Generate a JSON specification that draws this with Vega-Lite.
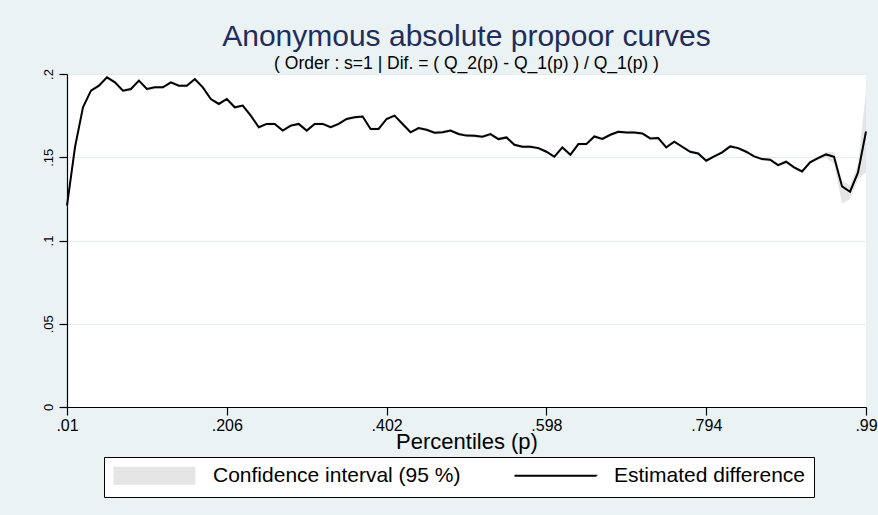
{
  "$schema": "https://vega.github.io/schema/vega-lite/v6.json",
  "width": 799,
  "height": 333,
  "autosize": {"type": "none"},
  "padding": {"left": 67, "top": 74, "right": 12, "bottom": 108},
  "background": "#eaf2f3",
  "title": {
    "text": "Anonymous absolute propoor curves",
    "subtitle": "( Order : s=1 | Dif. = ( Q_2(p) - Q_1(p) ) / Q_1(p) )",
    "font": "Liberation Sans",
    "fontSize": 30,
    "fontWeight": "normal",
    "color": "#1f2d5c",
    "subtitleFont": "Liberation Sans",
    "subtitleFontSize": 17.5,
    "subtitleColor": "black",
    "subtitlePadding": 3,
    "anchor": "middle",
    "frame": "group",
    "offset": -4
  },
  "config": {
    "view": {"fill": "white", "stroke": null},
    "axis": {
      "labelFont": "Liberation Sans",
      "titleFont": "Liberation Sans",
      "labelColor": "black",
      "titleColor": "black",
      "domainColor": "black",
      "tickColor": "black",
      "domainWidth": 1.2,
      "tickWidth": 1.2,
      "tickSize": 8
    }
  },
  "data": {
    "values": [
      {"p": 0.01, "est": 0.121, "lo": 0.120, "hi": 0.122},
      {"p": 0.0198, "est": 0.156, "lo": 0.155, "hi": 0.157},
      {"p": 0.0296, "est": 0.180, "lo": 0.179, "hi": 0.181},
      {"p": 0.0394, "est": 0.190, "lo": 0.189, "hi": 0.191},
      {"p": 0.0492, "est": 0.193, "lo": 0.192, "hi": 0.194},
      {"p": 0.059, "est": 0.198, "lo": 0.197, "hi": 0.199},
      {"p": 0.0688, "est": 0.195, "lo": 0.194, "hi": 0.196},
      {"p": 0.0786, "est": 0.190, "lo": 0.189, "hi": 0.191},
      {"p": 0.0884, "est": 0.191, "lo": 0.190, "hi": 0.192},
      {"p": 0.0982, "est": 0.196, "lo": 0.195, "hi": 0.197},
      {"p": 0.108, "est": 0.191, "lo": 0.190, "hi": 0.192},
      {"p": 0.1178, "est": 0.192, "lo": 0.191, "hi": 0.193},
      {"p": 0.1276, "est": 0.192, "lo": 0.191, "hi": 0.193},
      {"p": 0.1374, "est": 0.195, "lo": 0.194, "hi": 0.196},
      {"p": 0.1472, "est": 0.193, "lo": 0.192, "hi": 0.194},
      {"p": 0.157, "est": 0.193, "lo": 0.192, "hi": 0.194},
      {"p": 0.1668, "est": 0.197, "lo": 0.196, "hi": 0.198},
      {"p": 0.1766, "est": 0.192, "lo": 0.191, "hi": 0.193},
      {"p": 0.1864, "est": 0.185, "lo": 0.184, "hi": 0.186},
      {"p": 0.1962, "est": 0.182, "lo": 0.181, "hi": 0.183},
      {"p": 0.206, "est": 0.185, "lo": 0.184, "hi": 0.186},
      {"p": 0.2158, "est": 0.180, "lo": 0.179, "hi": 0.181},
      {"p": 0.2256, "est": 0.181, "lo": 0.180, "hi": 0.182},
      {"p": 0.2354, "est": 0.175, "lo": 0.174, "hi": 0.176},
      {"p": 0.2452, "est": 0.168, "lo": 0.167, "hi": 0.169},
      {"p": 0.255, "est": 0.170, "lo": 0.169, "hi": 0.171},
      {"p": 0.2648, "est": 0.170, "lo": 0.169, "hi": 0.171},
      {"p": 0.2746, "est": 0.166, "lo": 0.165, "hi": 0.167},
      {"p": 0.2844, "est": 0.169, "lo": 0.168, "hi": 0.170},
      {"p": 0.2942, "est": 0.170, "lo": 0.169, "hi": 0.171},
      {"p": 0.304, "est": 0.166, "lo": 0.165, "hi": 0.167},
      {"p": 0.3138, "est": 0.170, "lo": 0.169, "hi": 0.171},
      {"p": 0.3236, "est": 0.170, "lo": 0.169, "hi": 0.171},
      {"p": 0.3334, "est": 0.168, "lo": 0.167, "hi": 0.169},
      {"p": 0.3432, "est": 0.170, "lo": 0.169, "hi": 0.171},
      {"p": 0.353, "est": 0.173, "lo": 0.172, "hi": 0.174},
      {"p": 0.3628, "est": 0.174, "lo": 0.173, "hi": 0.175},
      {"p": 0.3726, "est": 0.1745, "lo": 0.1735, "hi": 0.1755},
      {"p": 0.3824, "est": 0.167, "lo": 0.166, "hi": 0.168},
      {"p": 0.3922, "est": 0.167, "lo": 0.166, "hi": 0.168},
      {"p": 0.402, "est": 0.173, "lo": 0.172, "hi": 0.174},
      {"p": 0.4118, "est": 0.175, "lo": 0.174, "hi": 0.176},
      {"p": 0.4216, "est": 0.170, "lo": 0.169, "hi": 0.171},
      {"p": 0.4314, "est": 0.165, "lo": 0.164, "hi": 0.166},
      {"p": 0.4412, "est": 0.1675, "lo": 0.1665, "hi": 0.1685},
      {"p": 0.451, "est": 0.1665, "lo": 0.1655, "hi": 0.1675},
      {"p": 0.4608, "est": 0.1647, "lo": 0.1637, "hi": 0.1657},
      {"p": 0.4706, "est": 0.165, "lo": 0.164, "hi": 0.166},
      {"p": 0.4804, "est": 0.166, "lo": 0.165, "hi": 0.167},
      {"p": 0.4902, "est": 0.164, "lo": 0.163, "hi": 0.165},
      {"p": 0.5, "est": 0.163, "lo": 0.162, "hi": 0.164},
      {"p": 0.5098, "est": 0.1629, "lo": 0.1619, "hi": 0.1639},
      {"p": 0.5196, "est": 0.1623, "lo": 0.1613, "hi": 0.1633},
      {"p": 0.5294, "est": 0.1639, "lo": 0.1629, "hi": 0.1649},
      {"p": 0.5392, "est": 0.1609, "lo": 0.1599, "hi": 0.1619},
      {"p": 0.549, "est": 0.1619, "lo": 0.1609, "hi": 0.1629},
      {"p": 0.5588, "est": 0.1575, "lo": 0.1565, "hi": 0.1585},
      {"p": 0.5686, "est": 0.1563, "lo": 0.1553, "hi": 0.1573},
      {"p": 0.5784, "est": 0.1563, "lo": 0.1553, "hi": 0.1573},
      {"p": 0.5882, "est": 0.1555, "lo": 0.1545, "hi": 0.1565},
      {"p": 0.598, "est": 0.1533, "lo": 0.1523, "hi": 0.1543},
      {"p": 0.6078, "est": 0.1503, "lo": 0.1493, "hi": 0.1513},
      {"p": 0.6176, "est": 0.1559, "lo": 0.1549, "hi": 0.1569},
      {"p": 0.6274, "est": 0.1515, "lo": 0.1505, "hi": 0.1525},
      {"p": 0.6372, "est": 0.1579, "lo": 0.1569, "hi": 0.1589},
      {"p": 0.647, "est": 0.1579, "lo": 0.1569, "hi": 0.1589},
      {"p": 0.6568, "est": 0.1625, "lo": 0.1615, "hi": 0.1635},
      {"p": 0.6666, "est": 0.161, "lo": 0.160, "hi": 0.162},
      {"p": 0.6764, "est": 0.1635, "lo": 0.1625, "hi": 0.1645},
      {"p": 0.6862, "est": 0.1653, "lo": 0.1643, "hi": 0.1663},
      {"p": 0.696, "est": 0.1649, "lo": 0.1639, "hi": 0.1659},
      {"p": 0.7058, "est": 0.1649, "lo": 0.1639, "hi": 0.1659},
      {"p": 0.7156, "est": 0.1643, "lo": 0.1633, "hi": 0.1653},
      {"p": 0.7254, "est": 0.1613, "lo": 0.1603, "hi": 0.1623},
      {"p": 0.7352, "est": 0.1615, "lo": 0.1605, "hi": 0.1625},
      {"p": 0.745, "est": 0.1559, "lo": 0.1549, "hi": 0.1569},
      {"p": 0.7548, "est": 0.1593, "lo": 0.1583, "hi": 0.1603},
      {"p": 0.7646, "est": 0.1563, "lo": 0.1553, "hi": 0.1573},
      {"p": 0.7744, "est": 0.1533, "lo": 0.1523, "hi": 0.1543},
      {"p": 0.7842, "est": 0.1523, "lo": 0.1513, "hi": 0.1533},
      {"p": 0.794, "est": 0.1479, "lo": 0.1469, "hi": 0.1489},
      {"p": 0.8038, "est": 0.1505, "lo": 0.1495, "hi": 0.1515},
      {"p": 0.8136, "est": 0.1529, "lo": 0.1519, "hi": 0.1539},
      {"p": 0.8234, "est": 0.1565, "lo": 0.1555, "hi": 0.1575},
      {"p": 0.8332, "est": 0.1555, "lo": 0.1545, "hi": 0.1565},
      {"p": 0.843, "est": 0.1533, "lo": 0.1523, "hi": 0.1543},
      {"p": 0.8528, "est": 0.1505, "lo": 0.1495, "hi": 0.1515},
      {"p": 0.8626, "est": 0.1489, "lo": 0.1479, "hi": 0.1499},
      {"p": 0.8724, "est": 0.1485, "lo": 0.1475, "hi": 0.1495},
      {"p": 0.8822, "est": 0.1453, "lo": 0.1443, "hi": 0.1463},
      {"p": 0.892, "est": 0.1473, "lo": 0.1463, "hi": 0.1483},
      {"p": 0.9018, "est": 0.1439, "lo": 0.1429, "hi": 0.1449},
      {"p": 0.9116, "est": 0.1415, "lo": 0.1405, "hi": 0.1425},
      {"p": 0.9214, "est": 0.1469, "lo": 0.1459, "hi": 0.1479},
      {"p": 0.9312, "est": 0.1495, "lo": 0.1485, "hi": 0.1505},
      {"p": 0.941, "est": 0.1517, "lo": 0.1497, "hi": 0.1532},
      {"p": 0.9508, "est": 0.1503, "lo": 0.146, "hi": 0.153},
      {"p": 0.9606, "est": 0.1325, "lo": 0.122, "hi": 0.136},
      {"p": 0.9704, "est": 0.1293, "lo": 0.125, "hi": 0.133},
      {"p": 0.9802, "est": 0.1409, "lo": 0.137, "hi": 0.146},
      {"p": 0.99, "est": 0.1655, "lo": 0.141, "hi": 0.190}
    ]
  },
  "encoding": {
    "x": {
      "field": "p",
      "type": "quantitative",
      "scale": {"domain": [0.01, 0.99], "nice": false, "zero": false},
      "axis": {
        "values": [0.01, 0.206, 0.402, 0.598, 0.794, 0.99],
        "labelExpr": "substring(format(datum.value, '~g'), 1)",
        "title": "Percentiles (p)",
        "titleFontSize": 22,
        "titleFontWeight": "normal",
        "titlePadding": -2,
        "labelFontSize": 16,
        "labelPadding": 2,
        "labelFlush": false,
        "labelOverlap": false,
        "grid": false
      }
    }
  },
  "layer": [
    {
      "mark": {"type": "area", "opacity": 1},
      "encoding": {
        "y": {
          "field": "lo",
          "type": "quantitative",
          "scale": {"domain": [0, 0.2], "nice": false, "zero": false},
          "axis": {
            "values": [0, 0.05, 0.1, 0.15, 0.2],
            "labelExpr": "datum.value == 0 ? '0' : substring(format(datum.value, '~g'), 1)",
            "labelAngle": -90,
            "labelAlign": "center",
            "labelBaseline": "bottom",
            "labelPadding": 4,
            "labelFontSize": 13,
            "title": null,
            "grid": true,
            "gridColor": "#e3edef",
            "gridWidth": 1.2
          }
        },
        "y2": {"field": "hi"},
        "fill": {
          "datum": "Confidence interval (95 %)",
          "type": "nominal",
          "scale": {
            "domain": ["Confidence interval (95 %)", "Estimated difference"],
            "range": ["#e5e5e5", "transparent"]
          },
          "legend": {
            "orient": "none",
            "legendX": 37,
            "legendY": 383,
            "direction": "horizontal",
            "title": null,
            "strokeColor": "black",
            "fillColor": "white",
            "padding": 8,
            "symbolSize": 324,
            "symbolType": "M-1,0H8.1V1H-1V-1H8.1V0Z",
            "symbolDash": [82, 1000],
            "symbolStrokeWidth": 2,
            "symbolOpacity": 1,
            "labelFont": "Liberation Sans",
            "labelFontSize": 21,
            "labelColor": "black",
            "labelOffset": 80,
            "labelLimit": 400,
            "columnPadding": 49
          }
        }
      }
    },
    {
      "mark": {"type": "line", "strokeWidth": 2},
      "encoding": {
        "y": {"field": "est", "type": "quantitative"},
        "stroke": {
          "datum": "Estimated difference",
          "type": "nominal",
          "scale": {
            "domain": ["Confidence interval (95 %)", "Estimated difference"],
            "range": ["#e5e5e5", "black"]
          }
        }
      }
    }
  ]
}
